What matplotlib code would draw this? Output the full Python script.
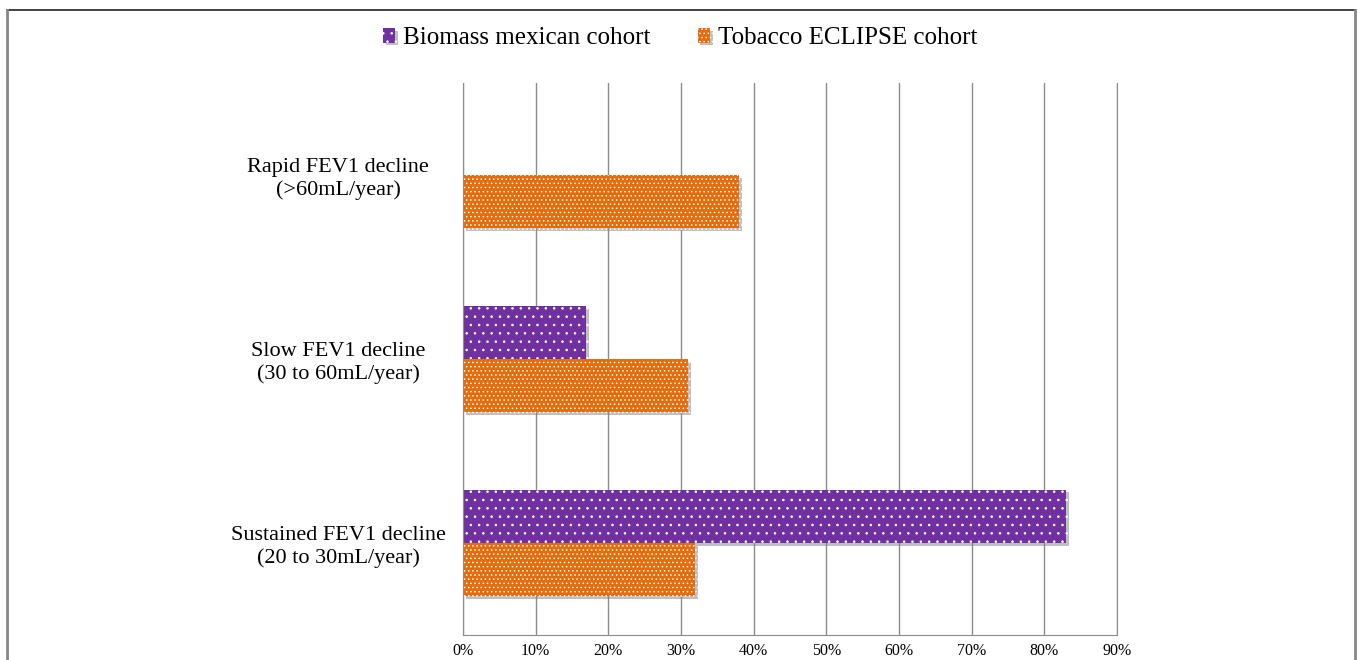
import numpy as np
import matplotlib.pyplot as plt
import matplotlib.patheffects as pe
from matplotlib.lines import Line2D
from matplotlib.ticker import PercentFormatter

plt.rcParams['font.family'] = ['Liberation Serif', 'DejaVu Serif']
plt.rcParams['hatch.linewidth'] = 0.6

categories = ["Sustained FEV1 decline\n(20 to 30mL/year)",
              "Slow FEV1 decline\n(30 to 60mL/year)",
              "Rapid FEV1 decline\n(>60mL/year)"]
biomass = [83, 17, 0]
tobacco = [32, 31, 38]
series_names = ["Biomass mexican cohort", "Tobacco ECLIPSE cohort"]
xticks = np.arange(0, 100, 10)

purple = "#7030a0"
orange = "#e46c0a"

fig = plt.figure(figsize=(13.58, 6.6), dpi=100)
ax = fig.add_axes([0.3409, 0.0379, 0.4816, 0.8364])

y = np.arange(len(categories))
h = 0.29
shadow = [pe.SimplePatchShadow(offset=(2, -2), shadow_rgbFace='0.5', alpha=0.5), pe.Normal()]

b1 = ax.barh(y + h / 2, biomass, height=h, color=purple, edgecolor='white',
             linewidth=0, hatch='..', label=series_names[0])
b2 = ax.barh(y - h / 2, tobacco, height=h, color=orange, edgecolor='white',
             linewidth=0, hatch='....', label=series_names[1])
for bars, vals in ((b1, biomass), (b2, tobacco)):
    for p, v in zip(bars, vals):
        if v > 0:
            p.set_path_effects(shadow)
        else:
            p.set_visible(False)

ax.set_xlim(0, 90)
ax.set_ylim(-0.5, 2.5)
ax.set_xticks(xticks)
ax.xaxis.set_major_formatter(PercentFormatter(decimals=0))
ax.set_yticks(y)
ax.set_yticklabels(categories, fontsize=16, ha='center', multialignment='center')
ax.tick_params(axis='y', length=0, pad=90)
ax.tick_params(axis='x', length=0, labelsize=11.5, pad=6, colors='black')
ax.grid(axis='x', color='#8c8c8c', linewidth=1)
ax.set_axisbelow(True)
ax.spines['top'].set_visible(False)
for s in ('left', 'bottom', 'right'):
    ax.spines[s].set_color('#8c8c8c')

fig.legend(handles=[b1, b2], labels=series_names, loc='center', bbox_to_anchor=(0.5007, 0.942),
           ncol=2, frameon=False, fontsize=18, handlelength=0.5, handleheight=0.5,
           columnspacing=1.9, handletextpad=0.3)

# outer frame
fig.add_artist(Line2D([0.005, 0.998], [0.985, 0.985], transform=fig.transFigure, color='#222222', lw=1.2))
fig.add_artist(Line2D([0.0055, 0.0055], [0.0, 0.985], transform=fig.transFigure, color='#888888', lw=2))
fig.add_artist(Line2D([0.9975, 0.9975], [0.0, 0.985], transform=fig.transFigure, color='#888888', lw=2))

fig.savefig("out.png", dpi=100)
